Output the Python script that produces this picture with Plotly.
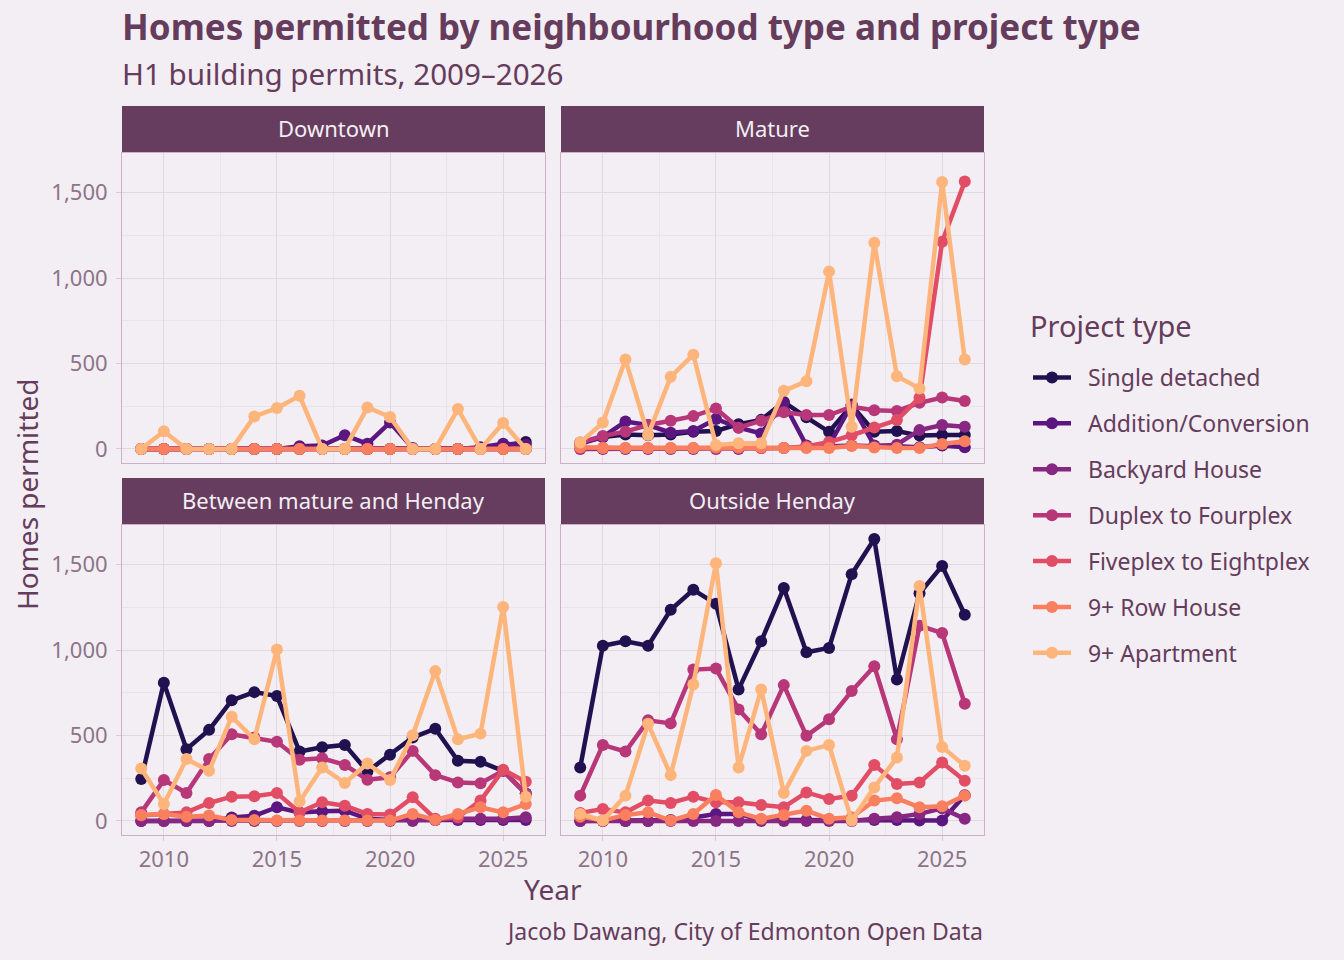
import plotly.graph_objects as go
from plotly.subplots import make_subplots

years = list(range(2009, 2027))

project_types = ["Single detached", "Addition/Conversion", "Backyard House",
                 "Duplex to Fourplex", "Fiveplex to Eightplex", "9+ Row House",
                 "9+ Apartment"]
colours = ["#221150", "#5c167f", "#862781", "#b73779", "#e24d66", "#f97f5e", "#feb57c"]

regions = ["Downtown", "Mature", "Between mature and Henday", "Outside Henday"]

# Downtown
dt_single = [0, 0, 0, 0, 0, 0, 0, 0, 0, 0, 0, 0, 0, 0, 0, 5, 20, 40]
dt_addition = [0, 0, 0, 0, 0, 0, 0, 15, 20, 80, 30, 155, 5, 0, 0, 10, 30, 25]
dt_backyard = [0, 0, 0, 0, 0, 0, 0, 0, 0, 0, 0, 0, 0, 0, 0, 0, 0, 0]
dt_duplex = [0, 0, 0, 0, 0, 0, 0, 0, 0, 0, 0, 0, 0, 0, 0, 0, 0, 0]
dt_fiveplex = [0, 0, 0, 0, 0, 0, 0, 0, 0, 0, 0, 0, 0, 0, 0, 0, 0, 0]
dt_row = [0, 0, 0, 0, 0, 0, 0, 0, 0, 0, 0, 0, 0, 0, 0, 0, 0, 0]
dt_apartment = [0, 103, 0, 0, 0, 190, 239, 311, 0, 0, 243, 187, 0, 0, 233, 0, 152, 0]

# Mature
ma_single = [35, 70, 85, 80, 85, 100, 105, 145, 170, 275, 185, 100, 255, 100, 105, 78, 82, 82]
ma_addition = [30, 70, 160, 140, 95, 105, 175, 125, 90, 270, 20, 20, 260, 20, 15, 10, 20, 10]
ma_backyard = [0, 0, 0, 0, 0, 0, 0, 0, 5, 5, 10, 15, 20, 15, 25, 110, 140, 130]
ma_duplex = [37, 76, 101, 140, 165, 192, 237, 124, 165, 214, 198, 198, 247, 227, 222, 270, 301, 280]
ma_fiveplex = [5, 5, 5, 5, 5, 5, 5, 5, 5, 5, 14, 40, 80, 126, 169, 300, 1213, 1565]
ma_row = [10, 5, 5, 5, 5, 5, 10, 10, 10, 5, 5, 5, 17, 8, 5, 5, 29, 45]
ma_apartment = [37, 154, 523, 82, 422, 552, 23, 33, 33, 340, 396, 1038, 130, 1207, 426, 354, 1563, 523]

# Between mature and Henday
bt_single = [245, 809, 420, 533, 706, 754, 731, 406, 431, 445, 290, 387, 488, 540, 352, 346, 293, 161]
bt_addition = [0, 0, 0, 0, 20, 30, 80, 50, 56, 60, 12, 5, 5, 5, 5, 5, 5, 5]
bt_backyard = [0, 0, 0, 0, 0, 0, 0, 0, 0, 0, 0, 0, 0, 5, 12, 12, 12, 21]
bt_duplex = [50, 239, 163, 362, 507, 488, 463, 358, 367, 328, 241, 255, 410, 268, 225, 220, 293, 160]
bt_fiveplex = [31, 41, 50, 105, 142, 144, 163, 50, 109, 89, 41, 37, 138, 12, 21, 119, 299, 229]
bt_row = [35, 41, 25, 31, 6, 6, 2, 2, 2, 2, 2, 2, 41, 6, 41, 80, 50, 99]
bt_apartment = [307, 99, 362, 293, 610, 478, 1003, 113, 313, 222, 336, 239, 501, 877, 478, 511, 1252, 142]

# Outside Henday
oh_single = [313, 1026, 1052, 1026, 1236, 1353, 1271, 770, 1052, 1363, 987, 1013, 1444, 1650, 828, 1333, 1493, 1207]
oh_addition = [0, 0, 0, 0, 5, 20, 41, 41, 5, 5, 5, 5, 5, 5, 5, 2, 2, 150]
oh_backyard = [0, 0, 0, 0, 0, 0, 0, 0, 0, 0, 0, 0, 0, 12, 21, 41, 74, 12]
oh_duplex = [148, 445, 406, 589, 571, 886, 892, 653, 507, 795, 498, 595, 760, 906, 478, 1143, 1100, 686]
oh_fiveplex = [47, 70, 50, 119, 105, 142, 109, 109, 93, 80, 167, 128, 148, 328, 216, 225, 342, 235]
oh_row = [25, 2, 35, 50, 2, 41, 152, 50, 12, 35, 60, 12, 21, 119, 132, 80, 86, 148]
oh_apartment = [41, 2, 148, 569, 268, 799, 1508, 313, 770, 163, 410, 445, 2, 196, 371, 1376, 433, 323]

region_series = {
    "Downtown": [dt_single, dt_addition, dt_backyard, dt_duplex, dt_fiveplex, dt_row, dt_apartment],
    "Mature": [ma_single, ma_addition, ma_backyard, ma_duplex, ma_fiveplex, ma_row, ma_apartment],
    "Between mature and Henday": [bt_single, bt_addition, bt_backyard, bt_duplex, bt_fiveplex, bt_row, bt_apartment],
    "Outside Henday": [oh_single, oh_addition, oh_backyard, oh_duplex, oh_fiveplex, oh_row, oh_apartment],
}

W, H = 1344, 960
BG = "#f3eef3"
TEXT = "#653c5c"
TICK = "#8c7489"
GRID = "#e2d8e0"
MINOR = "#ebe3ea"
BORDER = "#cbb0c8"
STRIP = "#663d5e"
FONT = "Noto Sans"


def px(x):
    return x / W


def py(y):
    return 1 - y / H


# panel boxes in pixels: (row, col, left, right, top, bottom)
panels = [(1, 1, 122, 545, 153, 463), (1, 2, 561, 984, 153, 463),
          (2, 1, 122, 545, 525, 835), (2, 2, 561, 984, 525, 835)]

fig = make_subplots(rows=2, cols=2)

for i, region in enumerate(regions):
    row, col = panels[i][0], panels[i][1]
    for j, ptype in enumerate(project_types):
        fig.add_trace(go.Scatter(
            x=years, y=region_series[region][j],
            mode="lines+markers",
            name="\u00a0\u00a0" + ptype,
            legendgroup=ptype,
            showlegend=(i == 0),
            line=dict(color=colours[j], width=4.5),
            marker=dict(color=colours[j], size=12),
        ), row=row, col=col)

shapes = []
annotations = []
for i, (row, col, left, right, top, bottom) in enumerate(panels):
    fig.update_xaxes(
        domain=[px(left), px(right)], range=[2008.15, 2026.85],
        tickvals=[2010, 2015, 2020, 2025],
        showgrid=True, gridcolor=GRID, gridwidth=1.2, zeroline=False,
        minor=dict(tick0=2010, dtick=2.5, showgrid=True, gridcolor=MINOR, gridwidth=0.8),
        showline=True, mirror=True, linecolor=BORDER, linewidth=1,
        showticklabels=(row == 2), ticks="outside" if row == 2 else "",
        ticklen=5, tickcolor="#d8c8d5",
        tickfont=dict(family=FONT, size=22, color=TICK),
        row=row, col=col)
    fig.update_yaxes(
        domain=[py(bottom), py(top)], range=[-82.5, 1732.5],
        tickvals=[0, 500, 1000, 1500], tickformat=",d",
        showgrid=True, gridcolor=GRID, gridwidth=1.2, zeroline=False,
        minor=dict(tick0=0, dtick=250, showgrid=True, gridcolor=MINOR, gridwidth=0.8),
        showline=True, mirror=True, linecolor=BORDER, linewidth=1,
        showticklabels=(col == 1), ticks="outside" if col == 1 else "",
        ticklen=5, tickcolor="#d8c8d5", ticklabelstandoff=4,
        tickfont=dict(family=FONT, size=22, color=TICK),
        row=row, col=col)
    # facet strip
    shapes.append(dict(type="rect", xref="paper", yref="paper",
                       x0=px(left), x1=px(right), y0=py(top - 1), y1=py(top - 47),
                       fillcolor=STRIP, line=dict(width=0), layer="above"))
    annotations.append(dict(text=regions[i], xref="paper", yref="paper",
                            x=px((left + right) / 2), y=py(top - 25),
                            xanchor="center", yanchor="middle", showarrow=False,
                            font=dict(family=FONT, size=22, color="#f3eef3")))

annotations += [
    dict(text="<b>Homes permitted by neighbourhood type and project type</b>",
         xref="paper", yref="paper", x=px(120), y=py(27), xanchor="left", yanchor="middle",
         showarrow=False, font=dict(family=FONT, size=35, color=TEXT)),
    dict(text="H1 building permits, 2009–2026",
         xref="paper", yref="paper", x=px(120), y=py(73), xanchor="left", yanchor="middle",
         showarrow=False, font=dict(family=FONT, size=29.6, color=TEXT)),
    dict(text="Year", xref="paper", yref="paper", x=px(553), y=py(889),
         xanchor="center", yanchor="middle", showarrow=False,
         font=dict(family=FONT, size=28, color=TEXT)),
    dict(text="Homes permitted", xref="paper", yref="paper", x=px(27), y=py(494),
         xanchor="center", yanchor="middle", textangle=-90, showarrow=False,
         font=dict(family=FONT, size=28, color=TEXT)),
    dict(text="Jacob Dawang, City of Edmonton Open Data", xref="paper", yref="paper",
         x=px(985), y=py(931), xanchor="right", yanchor="middle", showarrow=False,
         font=dict(family=FONT, size=23, color=TEXT)),
    dict(text="Project type", xref="paper", yref="paper", x=px(1028), y=py(325),
         xanchor="left", yanchor="middle", showarrow=False,
         font=dict(family=FONT, size=29, color=TEXT)),
]

fig.update_layout(
    width=W, height=H,
    margin=dict(l=0, r=0, t=0, b=0),
    paper_bgcolor=BG, plot_bgcolor=BG,
    font=dict(family=FONT, color=TEXT),
    shapes=shapes, annotations=annotations,
    legend=dict(
        font=dict(family=FONT, size=23, color=TEXT),
        x=px(1028), y=py(356), xanchor="left", yanchor="top",
        bgcolor="rgba(0,0,0,0)", itemwidth=38, tracegroupgap=13,
    ),
)

fig.write_html("out.html",
               config={"displayModeBar": False},
               post_script="document.body.style.margin='0';"
                           "document.body.style.background='#f3eef3';")
